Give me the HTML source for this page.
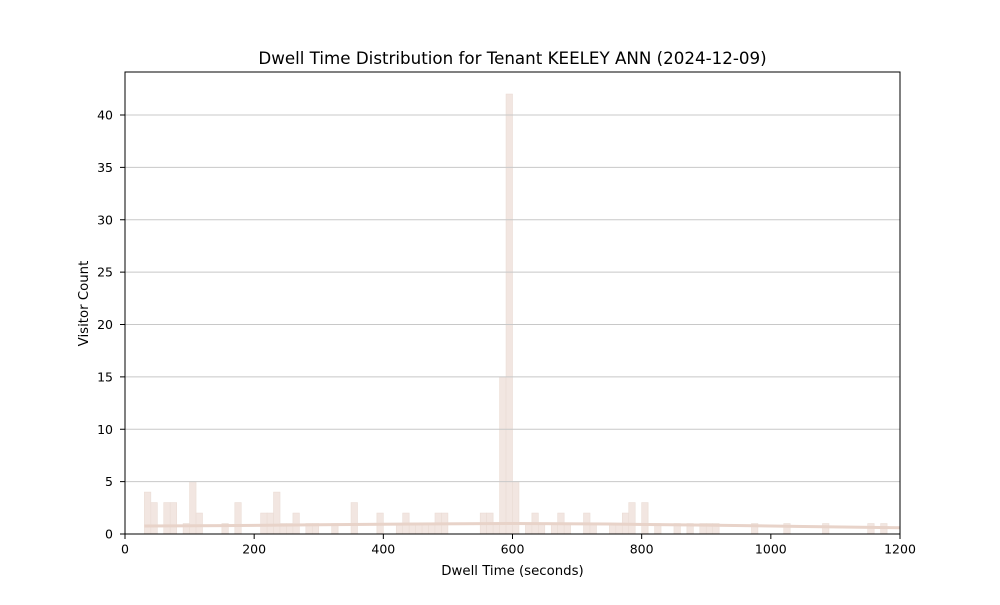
<!DOCTYPE html>
<html><head><meta charset="utf-8"><style>
body{margin:0;background:#fff;}
svg text{font-family:"DejaVu Sans","Liberation Sans",sans-serif;fill:#000;}
</style></head><body>
<svg id="chart" width="1000" height="600">
<rect width="1000" height="600" fill="#fff"/>
<text x="512.5" y="64" font-size="16.7" text-anchor="middle">Dwell Time Distribution for Tenant KEELEY ANN (2024-12-09)</text>
<g id="bars"></g>
<g id="grid"></g>
<g id="kde"></g>
<g id="axes"></g>
<text x="512.5" y="575" font-size="13.3" text-anchor="middle">Dwell Time (seconds)</text>
<text x="88" y="303.5" font-size="13.3" text-anchor="middle" transform="rotate(-90 88 303.5)">Visitor Count</text>
</svg>
<script>
const binStarts=[30,40,60,70,90,100,110,150,170,210,220,230,240,250,260,280,290,320,350,390,420,430,440,450,460,470,480,490,550,560,570,580,590,600,620,630,640,660,670,680,710,720,750,760,770,780,800,820,850,870,890,900,910,970,1020,1080,1150,1170];
const binCounts=[4,3,3,3,1,5,2,1,3,2,2,4,1,1,2,1,1,1,3,2,1,2,1,1,1,1,2,2,2,2,1,15,42,5,1,2,1,1,2,1,2,1,1,1,2,3,3,1,1,1,1,1,1,1,1,1,1,1];
const binWidth=10;
const kdeX=[30,150,300,450,600,750,900,1050,1200];
const kdeY=[0.76,0.8,0.88,0.95,1.0,0.95,0.85,0.72,0.6];
const xTicks=[0,200,400,600,800,1000,1200];
const yTicks=[0,5,10,15,20,25,30,35,40];
const L=125,R=900,T=72,B=534;
const xs=v=>L+(v/1200)*(R-L);
const ys=v=>B-(v/40)*(B-115);
const NS="http://www.w3.org/2000/svg";
function mk(tag,attrs,parent){const e=document.createElementNS(NS,tag);for(const k in attrs)e.setAttribute(k,attrs[k]);parent.appendChild(e);return e;}
const gb=document.getElementById('bars');
binStarts.forEach((s,i)=>{
 const x0=xs(s),x1=xs(s+binWidth),y=ys(binCounts[i]);
 const r=mk('rect',{x:x0,y:y,width:x1-x0,height:B-y,fill:'#f2e6e1',stroke:'#eadcd5','stroke-width':0.6},gb);
 
 
});
const gg=document.getElementById('grid');
yTicks.forEach(t=>{if(t===0)return;const l=mk('line',{x1:L,x2:R,y1:ys(t),y2:ys(t),stroke:'#c8c8c8','stroke-width':1},gg);
 
 });
const gk=document.getElementById('kde');
const p=mk('polyline',{points:kdeX.map((x,i)=>xs(x)+','+ys(kdeY[i])).join(' '),fill:'none',stroke:'#e8d3c9','stroke-width':3},gk);


const ga=document.getElementById('axes');
const fr=mk('rect',{x:L,y:T,width:R-L,height:B-T,fill:'none',stroke:'#000','stroke-width':1},ga);


xTicks.forEach(t=>{const x=xs(t);mk('line',{x1:x,x2:x,y1:B,y2:B+5,stroke:'#000'},ga);
 const tx=mk('text',{x:x,y:B+19.5,'font-size':12.5,'text-anchor':'middle'},ga);tx.textContent=t;
 
 });
yTicks.forEach(t=>{const y=ys(t);mk('line',{x1:L-5,x2:L,y1:y,y2:y,stroke:'#000'},ga);
 const tx=mk('text',{x:L-12,y:y+4.5,'font-size':12.5,'text-anchor':'end'},ga);tx.textContent=t;
 
 });
</script>
</body></html>
